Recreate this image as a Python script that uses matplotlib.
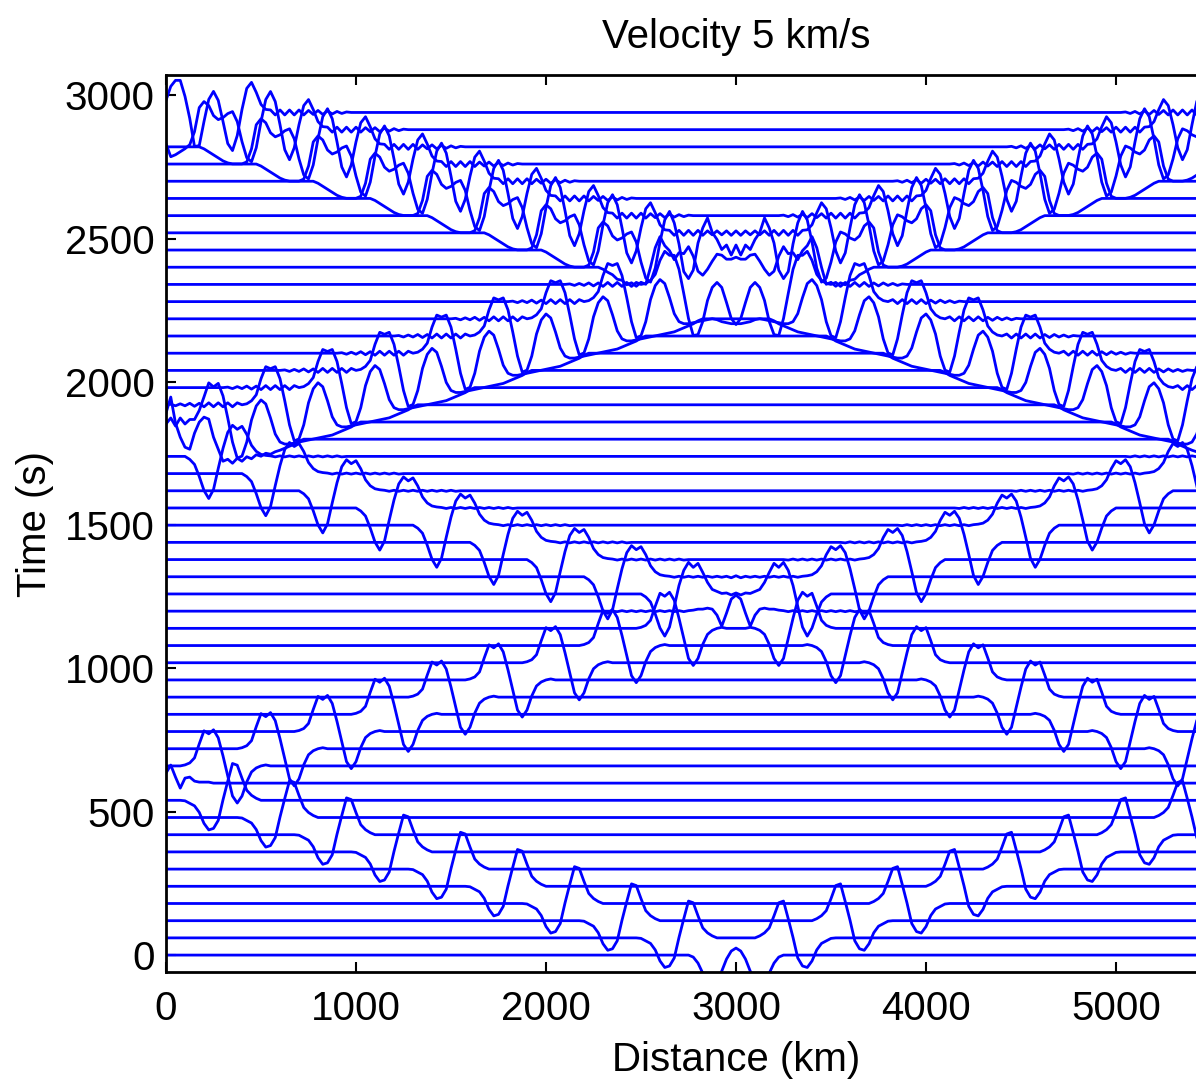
import matplotlib.pyplot as plt
import numpy as np

plt.rcParams['font.family'] = ['Liberation Sans', 'DejaVu Sans']

# snapshot times (one trace every 60 s)
trace_time = [0, 60, 120, 180, 240, 300, 360, 420, 480, 540,
              600, 660, 720, 780, 840, 900, 960, 1020, 1080, 1140,
              1200, 1260, 1320, 1380, 1440, 1500, 1560, 1620, 1680, 1740,
              1800, 1860, 1920, 1980, 2040, 2100, 2160, 2220, 2280, 2340,
              2400, 2460, 2520, 2580, 2640, 2700, 2760, 2820, 2880, 2940]

# position (km) of the pulse that leaves 3000 km going west; the other pulse is its mirror
pulse_a_km = [3000, 2700, 2400, 2100, 1800, 1500, 1200, 900, 600, 300,
              0, 300, 600, 900, 1200, 1500, 1800, 2100, 2400, 2700,
              3000, 3300, 3600, 3900, 4200, 4500, 4800, 5100, 5400, 5700,
              6000, 5700, 5400, 5100, 4800, 4500, 4200, 3900, 3600, 3300,
              3000, 2700, 2400, 2100, 1800, 1500, 1200, 900, 600, 300]
# -1 = moving west, +1 = moving east
pulse_a_dir = [-1, -1, -1, -1, -1, -1, -1, -1, -1, -1,
               1, 1, 1, 1, 1, 1, 1, 1, 1, 1,
               1, 1, 1, 1, 1, 1, 1, 1, 1, 1,
               -1, -1, -1, -1, -1, -1, -1, -1, -1, -1,
               -1, -1, -1, -1, -1, -1, -1, -1, -1, -1]

# pulse shape, every 25 km (negative offset = leading side),
# one shape per 600 s band, plus the shape at the source time
wavelet_s_km = list(range(-800, 801, 25))
wave_start = [0] * 22 + [0, -1, -4, -9, -13.5, -15, -13, -8, -2, 2,
                         3.5, 2, -2, -8, -13, -15, -13.5, -9, -4, -1, 0] + [0] * 22
wave_band0 = [0] * 23 + [0, -0.5, -3, -5.5, -12, -23, -29.5, -28, -20, 0.5,
                         19, 36.7, 35, 22, 10, 5, 2, 0] + [0] * 24
wave_band1 = [0] * 22 + [0, 1, 0, -2, -6, -16, -30, -37, -30, -10,
                         10, 28, 36, 32, 35, 22, 8, 3, 1, 0] + [0] * 23
wave_band2 = [0] * 24 + [0, -3, -8, -20, -34, -42, -33, -12, 8, 24,
                         31, 27, 30, 22, 11, 5, 2, 1] + \
             [0.5, -0.5, 0.5, -0.5, 0.5, -0.5, 0.5, -0.5, 0.5, -0.5,
              0.5, -0.5, 0.5, -0.5, 0.5, -0.5, 0] + [0] * 6
wave_band3 = [0, 0, 0, 0,
              -2, -5, -7, -9, -11, -13, -14, -15, -16, -17, -18, -19,
              -20, -21, -22, -22, -20, -12, 4, 18, 22, 16, 2, -20,
              -34, -36, -20, 4, 26, 38, 36, 38, 26, 10, 4, 1,
              0, 2, -2, 2, -2, 2, -2, 2, -2, 1.5, -1.5, 1.5,
              -1, 1, -1, 0.5, 0] + [0] * 8
wave_band4 = [0, 0, 0, 0,
              -2, -5, -8, -11, -14, -16, -17, -17, -17, -15, -2, 22,
              28, 24, 14, 10, 12, 16, 18, 8, -12, -28, -32, -18,
              8, 30, 38, 28, 5, -20, -30, -18, 5, 24, 30, 20, 8, 3,
              2.5, -2.5, 2.5, -2.5, 2.5, -2.5, 2.5, -2.5, 2, -2, 2, -2,
              1.5, -1.5, 1, -1, 0.5] + [0] * 6
waves = [wave_band0, wave_band1, wave_band2, wave_band3, wave_band4]

x_max = 6000
dx = 25
gain = 3.5  # seconds of plot offset per unit of trace amplitude

x_km = np.arange(0, x_max + dx, dx)
s = np.array(wavelet_s_km)

fig = plt.figure(figsize=(11.96, 10.83), dpi=100)
ax = fig.add_axes([0.1388, 0.1025, 1140 / 1196, 0.8278])

for t, a, d in zip(trace_time, pulse_a_km, pulse_a_dir):
    w = np.array(wave_start if t == 0 else waves[min(t // 600, 4)])
    u = np.zeros(len(x_km))
    for c, dd in [(a, d), (x_max - a, -d)]:
        xs = c - dd * s
        # reflect at both ends of the line
        xs = np.where(xs < 0, -xs, xs)
        xs = np.where(xs > x_max, 2 * x_max - xs, xs)
        xs = np.where(xs < 0, -xs, xs)
        np.add.at(u, (xs // dx).astype(int), w)
    ax.plot(x_km, t + gain * u, color='#0000ff', lw=2.0)

ax.set_xlim(0, x_max)
ax.set_ylim(-59, 3069)
ax.set_xticks([0, 1000, 2000, 3000, 4000, 5000])
ax.set_yticks([0, 500, 1000, 1500, 2000, 2500, 3000])
ax.tick_params(direction='in', top=True, right=True, length=7, width=1.5,
               labelsize=29)
ax.tick_params(axis='x', pad=13)
ax.tick_params(axis='y', pad=8)
for sp in ax.spines.values():
    sp.set_linewidth(2)
ax.set_xlabel('Distance (km)', fontsize=29, labelpad=9)
ax.set_ylabel('Time (s)', fontsize=29, labelpad=8)
ax.set_title('Velocity 5 km/s', fontsize=29, pad=20)

fig.savefig('out.png', dpi=100)
